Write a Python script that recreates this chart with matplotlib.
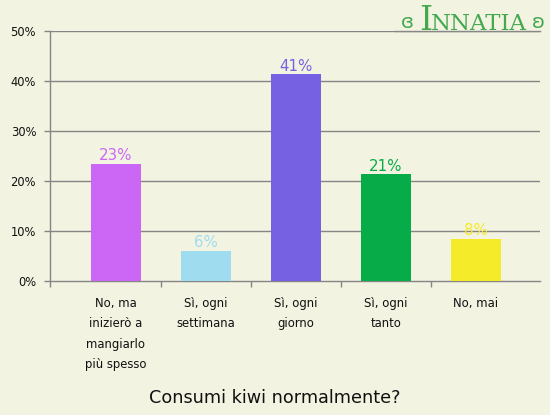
import numpy as np
import matplotlib
matplotlib.use("Agg")
import matplotlib.pyplot as plt

# survey answers and shares (percent)
categories = [
    "No, ma\ninizierò a\nmangiarlo\npiù spesso",
    "Sì, ogni\nsettimana",
    "Sì, ogni\ngiorno",
    "Sì, ogni\ntanto",
    "No, mai",
]
values = [23.5, 6.1, 41.3, 21.3, 8.5]
value_labels = ["23%", "6%", "41%", "21%", "8%"]
bar_colors = ["#cc66f5", "#a0dcf0", "#7761e3", "#07ab48", "#f5eb28"]
yticks = [0, 10, 20, 30, 40, 50]
title = "Consumi kiwi normalmente?"

bg = "#f3f3e2"
grid_col = "#858585"
logo_col = "#45a84f"

fig = plt.figure(figsize=(5.5, 4.15), dpi=100)
fig.patch.set_facecolor(bg)
ax = fig.add_axes([50 / 550, (415 - 281) / 415, 490 / 550, 250 / 415])
ax.set_facecolor(bg)

x = np.arange(len(categories))
ax.bar(x, values, width=0.556, color=bar_colors, zorder=3)
for xi, v, lab, c in zip(x, values, value_labels, bar_colors):
    ax.text(xi, v + 0.1, lab, ha="center", va="bottom", color=c, fontsize=10.8, zorder=4)

ax.set_xlim(-0.733, 4.711)
ax.set_ylim(0, 50)
ax.set_yticks(yticks)
ax.set_yticklabels([f"{t}%" for t in yticks], fontsize=8.3, color="#111111")
for t in yticks[1:]:
    ax.axhline(t, color=grid_col, lw=1, zorder=1)

ax.set_xticks([-0.733, 0.5, 1.5, 2.5, 3.5])
ax.set_xticklabels([])
ax.tick_params(axis="both", length=4, width=1, color=grid_col, pad=6)
for i, lab in enumerate(categories):
    ax.text(i, -3.2, lab, ha="center", va="top", fontsize=8.4, color="#111111",
            linespacing=1.73)

for s in ["top", "right"]:
    ax.spines[s].set_visible(False)
for s in ["left", "bottom"]:
    ax.spines[s].set_color(grid_col)
    ax.spines[s].set_linewidth(1)

fig.text(0.5, (415 - 398) / 415, title, ha="center", va="center", fontsize=12.7, color="#111111")

# logo
fig.add_artist(plt.Line2D([395 / 550, 540 / 550], [(415 - 31) / 415] * 2, color="#888888", lw=1))
fig.text(419 / 550, (415 - 30) / 415, "I", ha="left", va="baseline", fontsize=24,
         color=logo_col, family="DejaVu Serif")
fig.text(431 / 550, (415 - 30) / 415, "NNATIA", ha="left", va="baseline", fontsize=16.5,
         color=logo_col, family="DejaVu Serif")
fig.text(407 / 550, (415 - 22) / 415, "ɞ", ha="center", va="center", fontsize=14, color=logo_col)
fig.text(538 / 550, (415 - 22) / 415, "ʚ", ha="center", va="center", fontsize=14, color=logo_col)

fig.savefig("out.png", dpi=100, facecolor=bg)
